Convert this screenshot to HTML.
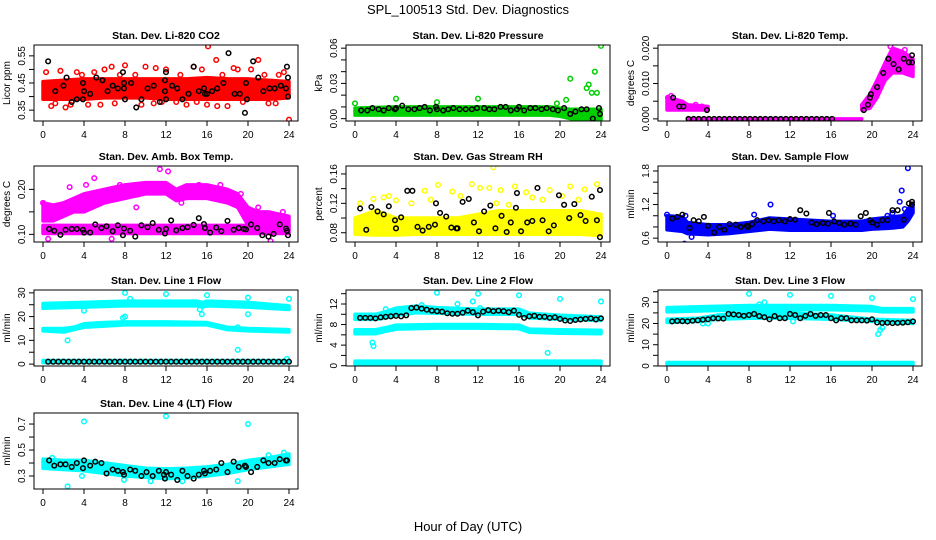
<!DOCTYPE html>
<html><head><meta charset="utf-8"><style>
html,body{margin:0;padding:0;background:#fff;}
svg{display:block;font-family:"Liberation Sans",Arial,sans-serif;}
</style></head><body>
<svg id="chart" width="936" height="540" viewBox="0 0 936 540" xmlns="http://www.w3.org/2000/svg">
<rect x="0" y="0" width="936" height="540" fill="#fff"/>
<text x="468" y="14" font-size="13" text-anchor="middle">SPL_100513  Std. Dev. Diagnostics</text>
<text x="468" y="531" font-size="13" text-anchor="middle">Hour of Day (UTC)</text>
</svg>
<script>
// ---------- data ----------
const xTicks = [0,4,8,12,16,20,24];
const panelTitles = ["Stan. Dev. Li-820 CO2","Stan. Dev. Li-820 Pressure","Stan. Dev. Li-820 Temp.","Stan. Dev. Amb. Box Temp.","Stan. Dev. Gas Stream RH","Stan. Dev. Sample Flow","Stan. Dev. Line 1 Flow","Stan. Dev. Line 2 Flow","Stan. Dev. Line 3 Flow","Stan. Dev. Line 4 (LT) Flow"];
const yLabels = ["Licor ppm","kPa","degrees C","degrees C","percent","ml/min","ml/min","ml/min","ml/min","ml/min"];
const colors = ["#ff0000","#00d000","#ff00ff","#ff00ff","#ffff00","#0000ff","#00ffff","#00ffff","#00ffff","#00ffff"];
const yMin = [0.31,-0.002,-0.0006,0.083,0.0674,0.531,-0.8,-0.06,-0.03,0.2];
const yMax = [0.59,0.0627,0.0209,0.252,0.1708,1.889,31.2,14.72,35.8,0.785];
const yTicks = [[0.35,0.40,0.45,0.50,0.55],[0,0.01,0.02,0.03,0.04,0.05,0.06],[0,0.005,0.010,0.015,0.020],[0.10,0.15,0.20],[0.08,0.10,0.12,0.14,0.16],[0.6,0.8,1.0,1.2,1.4,1.6,1.8],[0,5,10,15,20,25,30],[0,2,4,6,8,10,12,14],[0,5,10,15,20,25,30,35],[0.3,0.4,0.5,0.6,0.7]];
const yTickLabels = [["0.35","","0.45","","0.55"],["0.00","","","0.03","","","0.06"],["0.000","","0.010","","0.020"],["0.10","","0.20"],["0.08","","0.12","","0.16"],["0.6","","","1.2","","","1.8"],["0","","10","","20","","30"],["0","","4","","8","","12",""],["0","","10","","20","","30",""],["0.3","","0.5","","0.7"]];

// bands (dense clouds): hours, low, high
const co2BandH=[0,2,4,6,8,10,12,14,16,18,20,22,24];
const co2BandLo=[0.39,0.39,0.39,0.395,0.395,0.395,0.39,0.39,0.39,0.39,0.39,0.39,0.395];
const co2BandHi=[0.455,0.46,0.465,0.465,0.465,0.465,0.465,0.465,0.47,0.465,0.465,0.46,0.455];
const presBandH=[0,4,8,12,16,19,20,21,22,23,24];
const presBandLo=[0.003,0.003,0.003,0.003,0.003,0.003,0.002,0.000,-0.001,-0.001,-0.001];
const presBandHi=[0.009,0.010,0.010,0.010,0.010,0.010,0.009,0.008,0.008,0.008,0.008];
const tempBandAH=[0,1.5,2,4]; const tempBandALo=[0.0025,0.0025,0.0025,0.0025]; const tempBandAHi=[0.006,0.005,0.004,0.0035];
const tempBandBH=[2,19]; const tempBandBLo=[0,0]; const tempBandBHi=[0,0];
const tempBandCH=[19,19.8,20.5,21.3,22,23,24]; const tempBandCLo=[0.0025,0.003,0.006,0.011,0.013,0.013,0.012]; const tempBandCHi=[0.004,0.007,0.011,0.016,0.020,0.019,0.017];
const ambBandH=[0,1,2,3,4,6,8,10,12,13,14,16,18,19,20,21,22,24];
const ambBandLo=[0.13,0.13,0.14,0.15,0.15,0.17,0.18,0.19,0.19,0.175,0.18,0.18,0.17,0.16,0.12,0.115,0.115,0.11];
const ambBandHi=[0.17,0.165,0.17,0.18,0.19,0.20,0.21,0.215,0.215,0.20,0.21,0.21,0.20,0.19,0.16,0.15,0.15,0.14];
const amb2BandH=[0,24]; const amb2BandLo=[0.102,0.102]; const amb2BandHi=[0.12,0.12];
const rhBandH=[0,2,4,6,8,10,12,14,16,18,20,22,24];
const rhBandLo=[0.078,0.077,0.077,0.078,0.078,0.078,0.078,0.078,0.078,0.078,0.078,0.078,0.076];
const rhBandHi=[0.10,0.11,0.10,0.10,0.10,0.10,0.105,0.11,0.11,0.11,0.11,0.11,0.105];
const sfBandH=[0,1.5,2,4,6,8,10,12,14,16,18,19,20,22,23,23.5,24];
const sfBandLo=[0.75,0.72,0.68,0.66,0.68,0.72,0.76,0.74,0.74,0.74,0.74,0.74,0.76,0.78,0.8,0.9,1.05];
const sfBandHi=[1.0,0.98,0.88,0.84,0.84,0.88,0.96,0.94,0.92,0.9,0.9,0.9,0.94,0.98,1.0,1.12,1.22];
const l1aH=[0,4,8,12,15,15.6,16,20,24]; const l1aLo=[23.5,24,24.5,24.5,24.5,24,24.5,24,23]; const l1aHi=[25.5,26,26.5,26.5,26.5,26,26.5,26,24.5];
const l1bH=[0,2,3,4,6,8,12,16,17,18,20,24]; const l1bLo=[14,13.5,14.5,15.5,16,16.5,16.5,16.5,15.5,14.5,14,13.5]; const l1bHi=[15,15,15.5,17,17.5,17.8,17.8,17.5,16.5,15.5,15,14.5];
const l1cH=[0,24]; const l1cLo=[0.6,0.6]; const l1cHi=[1.5,1.5];
const l2aH=[0,2,3,4,6,8,12,16,17,20,24]; const l2aLo=[9,9,9.3,9.8,10.3,10.2,10,10,9.3,9,8.8]; const l2aHi=[10,10,10.5,11.2,11.6,11.3,11,11,10.2,9.8,9.5];
const l2bH=[0,2,3,4,8,12,16,17,20,24]; const l2bLo=[6.2,6.2,6.7,7.1,7.3,7.3,7.2,6.5,6.3,6.2]; const l2bHi=[7,7,7.4,7.9,8,8,7.9,7.1,7,6.9];
const l2cH=[0,24]; const l2cLo=[0.3,0.3]; const l2cHi=[0.9,0.9];
const l3aH=[0,4,8,12,16,20,21,24]; const l3aLo=[25.5,26,26.5,26.5,26.5,26,25.5,25.5]; const l3aHi=[27.5,28,28.5,28.5,28.5,28,27,27];
const l3bH=[0,3,5,8,12,16,20,24]; const l3bLo=[20.5,21,22,22.5,22.5,22,21,20]; const l3bHi=[22,22.5,24,25,25,24,22,21.5];
const l3cH=[0,24]; const l3cLo=[0.6,0.6]; const l3cHi=[1.6,1.6];
const l4BandH=[0,2,4,6,8,10,12,14,16,18,20,22,24];
const l4BandLo=[0.36,0.35,0.34,0.32,0.30,0.29,0.28,0.285,0.30,0.32,0.35,0.37,0.39];
const l4BandHi=[0.43,0.42,0.42,0.40,0.38,0.36,0.355,0.36,0.37,0.39,0.42,0.44,0.47];

// colored scatter points
const co2ColX=[16.1,24,21,16.9,14.7,8,0.3,2.2,0.8,18,16,17,12,3.3,10,5,19,22,1.7,13,9.6,7,11,4.4,6,14,20.3,23.5,2.7,6.7,10.8,18.6,5.6,15.5,22.7,1.2,3.8,7.5,9,11.6,13.4,15,17.5,19.5,21.6,23];
const co2ColY=[0.585,0.315,0.535,0.535,0.51,0.515,0.49,0.36,0.365,0.365,0.37,0.365,0.50,0.49,0.51,0.49,0.50,0.375,0.495,0.38,0.37,0.375,0.505,0.37,0.50,0.37,0.50,0.49,0.37,0.51,0.375,0.505,0.37,0.50,0.375,0.375,0.48,0.48,0.48,0.38,0.48,0.38,0.48,0.38,0.48,0.48];
const presColX=[8,16,24,23.4,21,22.8,22.6,4,12,20.6,19.7,0,8,23.1,23.6];
const presColY=[0.067,0.065,0.062,0.040,0.034,0.029,0.026,0.017,0.017,0.016,0.013,0.013,0.014,0.022,0.022];
const tempColX=[0.1,0.4,1,21.8,2.8,3.4,22.5,23.2];
const tempColY=[0.006,0.0065,0.005,0.0205,0.004,0.0035,0.019,0.0195];
const ambColX=[5,11.4,12.2,2.6,0,0.5,6.7,22.2,13.5,19.3,7.5,15.2,4.2,17.3,21,0.8,9.1,16.5,23.4];
const ambColY=[0.225,0.245,0.24,0.205,0.17,0.09,0.09,0.085,0.17,0.19,0.21,0.21,0.21,0.21,0.16,0.155,0.16,0.20,0.15];
const rhColX=[13.5,11.4,8.1,15.6,12.2,13.1,21,19,6.8,9.5,14.2,16.7,22.4,2.8,1.8,4,23.6,17.3,10.3,20.2,5.5,0.5,7.4,3.3,18.3,21.8,13.8,15];
const rhColY=[0.169,0.146,0.145,0.143,0.141,0.141,0.143,0.138,0.137,0.136,0.138,0.135,0.139,0.128,0.126,0.124,0.146,0.128,0.13,0.13,0.12,0.12,0.125,0.13,0.125,0.125,0.12,0.118];
const sfColX=[23.5,22.9,22.7,10.1,1.7,2.4,0,1.8,22,23.2,21.5,8.5,16.2];
const sfColY=[1.85,1.45,1.25,1.2,0.5,0.62,1.02,1.0,1.05,1.12,1.0,1.02,1.0];
const l1ColX=[8,12,16,20,24,2.4,19,8,15.5,4,20,7.8,8.5,20.3,15.3,19,23.8];
const l1ColY=[30,29.5,29,28,27.5,10,6,20,21,22.5,21,19.5,27.5,25,23,15.5,2.2];
const l2ColX=[8,12,16,20,24,1.7,1.8,18.8,10,11.5,3,6.5,12.2];
const l2ColY=[14.2,14,13.7,13,12.5,4.5,3.8,2.5,12,12.5,11,11.8,11.2];
const l3ColX=[8,12,16,20,24,20.6,20.8,3.5,4,9.5,9,10.3,12.3,21];
const l3ColY=[34,33.5,33,32,31.5,15,17,20,20,30,29,27.5,21,18];
const l4ColX=[4,12,20,2.4,19,0.9,3.8,7.9,10.5,13.6,22,23.5];
const l4ColY=[0.72,0.76,0.70,0.22,0.26,0.44,0.30,0.27,0.26,0.26,0.46,0.48];

// black (hourly) points
const co2BlkX=[0.5,1.2,2,2.3,2.8,3.3,3.9,4,3.9,4.6,5.2,5.8,6.3,6.8,7.3,7.8,7.9,7.9,8,8.6,9.1,9.6,10.2,10.8,11.4,11.9,11.9,12,12,12.6,13.1,13.6,14.2,14.7,15.2,15.7,15.8,16,16.5,17,17.6,18.1,18.7,19.2,19.7,19.8,19.9,20.5,21,21.5,22.1,22.6,23.2,23.7,23.8,23.9,23.9];
const co2BlkY=[0.53,0.42,0.44,0.47,0.38,0.39,0.45,0.42,0.39,0.41,0.47,0.46,0.42,0.44,0.43,0.49,0.45,0.43,0.39,0.45,0.36,0.39,0.43,0.44,0.38,0.46,0.42,0.49,0.39,0.44,0.43,0.39,0.41,0.51,0.42,0.43,0.41,0.41,0.42,0.43,0.45,0.56,0.41,0.41,0.34,0.45,0.39,0.53,0.47,0.42,0.43,0.43,0.44,0.43,0.51,0.47,0.40];
const presBlkX=[0.6,1.2,1.7,2.3,2.8,3.3,3.9,4,4.6,5.2,5.8,6.3,6.8,7.3,7.9,8,8.6,9.1,9.6,10.2,10.8,11.4,11.9,12.6,13.1,13.6,14.2,14.7,15.2,15.8,16,16.5,17.1,17.6,18.2,18.7,19.3,19.8,20.4,21,21.5,22.1,22.6,23.2,23.8,23.9];
const presBlkY=[0.007,0.007,0.009,0.008,0.007,0.009,0.008,0.009,0.011,0.008,0.008,0.009,0.010,0.007,0.010,0.008,0.007,0.008,0.009,0.008,0.008,0.008,0.009,0.009,0.008,0.008,0.010,0.010,0.007,0.008,0.010,0.007,0.009,0.009,0.008,0.009,0.008,0.007,0.009,0.004,0.006,0.008,0.008,0.000,0.009,0.004];
const tempBlkX=[0.6,1.2,1.6,3.9,2.1,2.6,3.1,3.6,4.1,4.6,5.1,5.6,6.1,6.6,7.1,7.6,8.1,8.6,9.1,9.6,10.1,10.6,11.1,11.6,12.1,12.6,13.1,13.6,14.1,14.6,15.1,15.6,16.1,19.2,19.6,19.8,19.9,20.5,21.1,21.6,22.1,22.6,23.1,23.6,23.9,23.9];
const tempBlkY=[0.006,0.0035,0.0035,0.0025,0,0,0,0,0,0,0,0,0,0,0,0,0,0,0,0,0,0,0,0,0,0,0,0,0,0,0,0,0,0.0025,0.004,0.006,0.007,0.009,0.013,0.017,0.0155,0.014,0.017,0.016,0.018,0.016];
const ambBlkX=[0.6,1.1,1.7,2.2,2.8,3.3,3.9,4,4.6,5.1,5.7,6.2,6.8,7.3,7.8,7.9,8.5,9.0,9.6,10.2,10.7,11.3,11.9,12,12.5,13,13.6,14.1,14.7,15.2,15.7,15.8,16.3,16.9,17.4,18,18.6,19.1,19.6,19.8,20.3,20.9,21.4,22,22.5,23.1,23.7,23.8,23.9];
const ambBlkY=[0.112,0.108,0.099,0.11,0.112,0.112,0.11,0.104,0.104,0.122,0.114,0.118,0.107,0.12,0.098,0.113,0.108,0.095,0.12,0.116,0.125,0.11,0.102,0.112,0.131,0.109,0.114,0.116,0.121,0.136,0.123,0.114,0.104,0.115,0.107,0.13,0.11,0.114,0.112,0.111,0.122,0.114,0.098,0.095,0.101,0.122,0.113,0.108,0.098];
const rhBlkX=[0.5,1.1,1.6,2.2,2.8,3.3,3.9,4,4.5,5.1,5.6,6.1,6.6,7.2,7.8,7.9,8.3,8.9,9.4,9.9,10,10.5,11.1,11.6,12.1,12.6,13.2,13.7,14.3,14.8,15.2,15.7,15.8,16.2,16.8,17.3,17.8,18.3,18.9,19.4,19.9,20.4,20.9,21.4,22,22.5,23.1,23.6,23.9,23.9];
const rhBlkY=[0.113,0.084,0.115,0.109,0.105,0.116,0.097,0.086,0.101,0.137,0.137,0.088,0.083,0.088,0.091,0.12,0.107,0.102,0.087,0.086,0.086,0.122,0.126,0.094,0.082,0.109,0.117,0.086,0.103,0.081,0.094,0.114,0.134,0.082,0.094,0.096,0.141,0.097,0.082,0.09,0.131,0.118,0.1,0.119,0.104,0.096,0.129,0.097,0.138,0.074];
const sfBlkX=[0.5,1,1.5,2.2,2.6,3.1,3.6,4,4.6,5.1,5.6,6.1,6.7,7.2,7.8,7.9,8.3,8.8,9.4,9.9,10.4,10.9,11.5,12,12.5,13,13.6,14.1,14.6,15.2,15.7,15.8,16.3,16.8,17.3,17.9,18.4,18.9,19.4,19.8,20,20.5,21,21.5,22,22.5,23.1,23.6,23.9,23.9];
const sfBlkY=[0.95,0.98,1.02,0.78,0.92,0.9,0.98,0.82,0.7,0.8,0.75,0.85,0.84,0.8,0.82,0.8,0.85,0.92,0.9,0.92,0.9,0.92,0.9,0.94,0.93,1.1,1.04,0.88,0.85,0.87,0.86,1.05,0.9,0.87,0.84,0.86,0.84,0.99,1.05,0.92,0.88,0.84,0.92,0.92,1.1,1.1,0.93,1.22,1.25,1.2];
const l1BlkX=[0.5,1,1.5,2,2.5,3,3.5,4,4.5,5,5.5,6,6.5,7,7.5,8,8.5,9,9.5,10,10.5,11,11.5,12,12.5,13,13.5,14,14.5,15,15.5,16,16.5,17,17.5,18,18.5,19,19.5,20,20.5,21,21.5,22,22.5,23,23.5,24];
const l1BlkY=[1,1,1,1,1,1,1,1,1,1,1,1,1,1,1,1,1,1,1,1,1,1,1,1,1,1,1,1,1,1,1,1,1,1,1,1,1,1,1,1,1,1,1,1,1,1,1,1];
const l2BlkX=[0.5,1,1.5,2,2.5,3,3.5,4,4.5,5,5.5,6,6.5,7,7.5,8,8.5,9,9.5,10,10.5,11,11.5,12,12.5,13,13.5,14,14.5,15,15.5,16,16.5,17,17.5,18,18.5,19,19.5,20,20.5,21,21.5,22,22.5,23,23.5,24];
const l2BlkY=[9.3,9.3,9.3,9.2,9.4,9.5,9.6,9.7,9.6,9.8,11.2,11.3,11.1,10.9,10.7,10.6,10.5,10.2,10.1,10.1,10.3,10.7,10.4,9.8,10.5,10.8,10.6,10.7,10.6,10.4,10.7,9.9,9.3,9.6,9.7,9.5,9.5,9.3,9.4,9.1,8.8,8.7,8.9,9.0,9.1,9.2,9.0,9.2];
const l3BlkX=[0.5,1,1.5,2,2.5,3,3.5,4,4.5,5,5.5,6,6.5,7,7.5,8,8.5,9,9.5,10,10.5,11,11.5,12,12.5,13,13.5,14,14.5,15,15.5,16,16.5,17,17.5,18,18.5,19,19.5,20,20.5,21,21.5,22,22.5,23,23.5,24];
const l3BlkY=[21,21.2,21.1,21,21.3,21.5,21.8,22,22.5,22.4,22.3,24.5,24.3,24,23.6,24,24.5,23.5,23,22,23.5,22.5,22.5,24.5,24,22.5,23.6,24.5,23.6,24,24,22.5,21.5,22.5,22.5,21.5,21.5,21.5,21.4,22,20.5,20.3,20.4,20.2,20.3,20.4,20.6,21];
const l4BlkX=[0.6,1.1,1.7,2.2,2.8,3.3,3.9,4,4.6,5.1,5.7,6.2,6.8,7.3,7.8,7.9,8.5,9,9.6,10.1,10.7,11.3,11.8,11.9,12,12.5,13.1,13.6,14.1,14.7,15.2,15.7,15.8,16.3,16.9,17.4,18,18.6,19.1,19.7,19.8,20.3,20.9,21.5,22,22.6,23.1,23.7,23.8];
const l4BlkY=[0.42,0.38,0.39,0.39,0.37,0.4,0.36,0.42,0.38,0.41,0.4,0.32,0.35,0.34,0.33,0.31,0.35,0.34,0.3,0.33,0.3,0.34,0.31,0.28,0.33,0.31,0.27,0.34,0.3,0.28,0.31,0.34,0.32,0.34,0.35,0.4,0.33,0.41,0.37,0.38,0.37,0.33,0.37,0.42,0.4,0.4,0.43,0.42,0.42];

const bandSets=[
 [[co2BandH,co2BandLo,co2BandHi]],
 [[presBandH,presBandLo,presBandHi]],
 [[tempBandAH,tempBandALo,tempBandAHi],[tempBandBH,tempBandBLo,tempBandBHi],[tempBandCH,tempBandCLo,tempBandCHi]],
 [[ambBandH,ambBandLo,ambBandHi],[amb2BandH,amb2BandLo,amb2BandHi]],
 [[rhBandH,rhBandLo,rhBandHi]],
 [[sfBandH,sfBandLo,sfBandHi]],
 [[l1aH,l1aLo,l1aHi],[l1bH,l1bLo,l1bHi],[l1cH,l1cLo,l1cHi]],
 [[l2aH,l2aLo,l2aHi],[l2bH,l2bLo,l2bHi],[l2cH,l2cLo,l2cHi]],
 [[l3aH,l3aLo,l3aHi],[l3bH,l3bLo,l3bHi],[l3cH,l3cLo,l3cHi]],
 [[l4BandH,l4BandLo,l4BandHi]]
];
const colPts=[[co2ColX,co2ColY],[presColX,presColY],[tempColX,tempColY],[ambColX,ambColY],[rhColX,rhColY],[sfColX,sfColY],[l1ColX,l1ColY],[l2ColX,l2ColY],[l3ColX,l3ColY],[l4ColX,l4ColY]];
const blkPts=[[co2BlkX,co2BlkY],[presBlkX,presBlkY],[tempBlkX,tempBlkY],[ambBlkX,ambBlkY],[rhBlkX,rhBlkY],[sfBlkX,sfBlkY],[l1BlkX,l1BlkY],[l2BlkX,l2BlkY],[l3BlkX,l3BlkY],[l4BlkX,l4BlkY]];

// ---------- layout ----------
const colLeft=[34,346,658], rowTop=[45,166,290,413], PW=264, PH=76;
const NS="http://www.w3.org/2000/svg";
const svg=document.getElementById('chart');
function mk(tag,attrs,parent){const e=document.createElementNS(NS,tag);for(const k in attrs)e.setAttribute(k,attrs[k]);(parent||svg).appendChild(e);return e;}

for(let p=0;p<10;p++){
  const c=p%3, r=Math.floor(p/3);
  const L=colLeft[c], T=rowTop[r];
  const xs=h=>L+9+h*10.25;
  const ys=v=>T+(yMax[p]-v)/(yMax[p]-yMin[p])*PH;
  const g=mk('g',{});
  
  
  const clipId='clip'+p;
  const cp=mk('clipPath',{id:clipId},g);
  mk('rect',{x:L,y:T,width:PW,height:PH},cp);
  const plot=mk('g',{'clip-path':'url(#'+clipId+')'},g);
  
  
  bandSets[p].forEach((b,bi)=>{
    const [H,lo,hi]=b;
    let pts=[];
    for(let i=0;i<H.length;i++)pts.push(xs(H[i])+','+ys(hi[i]));
    for(let i=H.length-1;i>=0;i--)pts.push(xs(H[i])+','+ys(lo[i]));
    const poly=mk('polygon',{points:pts.join(' '),fill:colors[p],stroke:colors[p],'stroke-width':3.5,'stroke-linejoin':'round'},plot);
    
    
  });
  const [cx,cy]=colPts[p];
  for(let i=0;i<cx.length;i++){
    const ci=mk('circle',{cx:xs(cx[i]),cy:ys(cy[i]),r:2.3,fill:'none',stroke:colors[p],'stroke-width':1.5},plot);
    
    
  }
  const [bx,by]=blkPts[p];
  for(let i=0;i<bx.length;i++){
    const ci=mk('circle',{cx:xs(bx[i]),cy:ys(by[i]),r:2.3,fill:'none',stroke:'#000','stroke-width':1.5},plot);
    
    
  }
  const box=mk('rect',{x:L,y:T,width:PW,height:PH,fill:'none',stroke:'#000','stroke-width':1},g);
  
  
  const t=mk('text',{x:L+PW/2,y:T-6,'font-size':10.5,'font-weight':'bold','text-anchor':'middle'},g);
  t.textContent=panelTitles[p];
  
  
  xTicks.forEach(h=>{
    const tk=mk('line',{x1:xs(h),x2:xs(h),y1:T+PH,y2:T+PH+5,stroke:'#000'},g);
    
    
    const lb=mk('text',{x:xs(h),y:T+PH+17,'font-size':10,'text-anchor':'middle'},g);
    lb.textContent=String(h);
    
    
  });
  yTicks[p].forEach((v,i)=>{
    const y=ys(v);
    const tk=mk('line',{x1:L-5,x2:L,y1:y,y2:y,stroke:'#000'},g);
    
    
    const s=yTickLabels[p][i];
    if(s){
      const lb=mk('text',{x:L-9,y:y,'font-size':10,'text-anchor':'middle',transform:'rotate(-90 '+(L-9)+' '+y+')'},g);
      lb.textContent=s;
      
      
    }
  });
  const yl=mk('text',{x:L-24,y:T+PH/2,'font-size':10,'text-anchor':'middle',transform:'rotate(-90 '+(L-24)+' '+(T+PH/2)+')'},g);
  yl.textContent=yLabels[p];
  
  
}
</script>
</body></html>
